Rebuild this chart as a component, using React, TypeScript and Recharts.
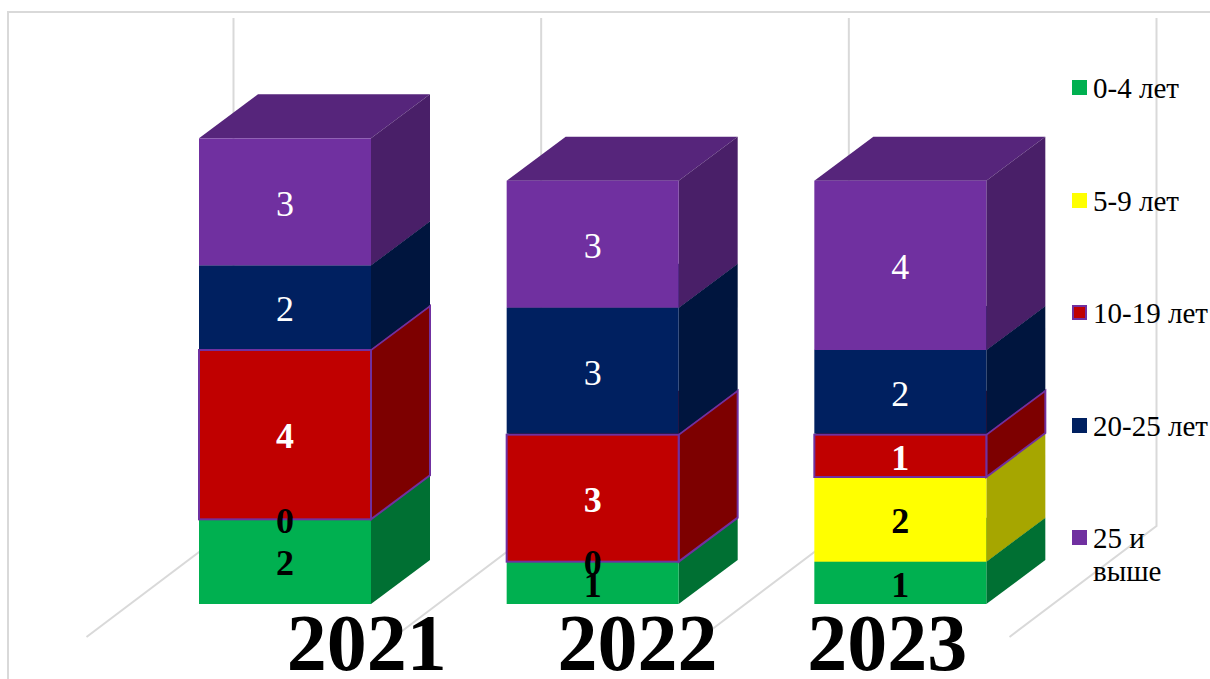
import React from "react";
import { BarChart, Bar, XAxis, YAxis, Legend, LabelList, usePlotArea } from "recharts";

const years = ["2021", "2022", "2023"];
const age0to4 = [2, 1, 1];
const age5to9 = [0, 0, 2];
const age10to19 = [4, 3, 1];
const age20to25 = [2, 3, 2];
const age25plus = [3, 3, 4];

const yMax = 12;
const font = '"Liberation Serif", "Times New Roman", serif';
const gridColor = "#d9d9d9";
const depthX = 59;
const depthY = 44;
const tickShift = [82, 45, -13];

const data = years.map((year, i) => ({
  year,
  a: age0to4[i],
  b: age5to9[i],
  c: age10to19[i],
  d: age20to25[i],
  e: age25plus[i],
}));

interface BoxProps {
  x?: number;
  y?: number;
  width?: number;
  height?: number;
}

const makeBox =
  (front: string, side: string, top: string, stroke?: string, bottomInset = 0) =>
  ({ x = 0, y = 0, width = 0, height = 0 }: BoxProps) => {
    if (height <= 0) return <g />;
    const right = x + width;
    const bottom = y + height - bottomInset;
    const edge = stroke ? { stroke, strokeWidth: 2 } : {};
    return (
      <g>
        <polygon
          points={`${x},${y} ${x + depthX},${y - depthY} ${right + depthX},${y - depthY} ${right},${y}`}
          fill={top}
        />
        <polygon
          points={`${right},${y} ${right + depthX},${y - depthY} ${right + depthX},${bottom - depthY} ${right},${bottom}`}
          fill={side}
          {...edge}
        />
        <rect x={x} y={y} width={width} height={bottom - y} fill={front} {...edge} />
      </g>
    );
  };

// back wall verticals and floor diagonals, behind the bars
const Walls = () => {
  const plot = usePlotArea();
  if (!plot) return null;
  const step = plot.width / years.length;
  const floor = plot.y + plot.height;
  return (
    <g>
      {[0, 1, 2, 3].map((i) => {
        const backX = plot.x + 102.5 + i * step;
        return (
          <g key={i} stroke={gridColor} strokeWidth={2} fill="none">
            <polyline
              points={`${backX},${plot.y - 78} ${backX},${floor - 78} ${plot.x - 44.5 + i * step},${floor + 33}`}
            />
          </g>
        );
      })}
    </g>
  );
};

const YearTick = ({ x = 0, y = 0, payload, index = 0 }: any) => (
  <text
    x={x + tickShift[index]}
    y={y + 58}
    textAnchor="middle"
    fontFamily={font}
    fontSize={80}
    fontWeight="bold"
    fill="#000"
  >
    {payload.value}
  </text>
);

const LegendBlock = ({ payload }: any) => (
  <div style={{ fontFamily: font, fontSize: 29, color: "#000" }}>
    {(payload || []).map((item: any) => (
      <div
        key={item.value}
        style={{ position: "absolute", left: 0, top: item.payload.legendTop, width: 140 }}
      >
        <span
          style={{
            position: "absolute",
            left: 0,
            top: 0,
            width: 15,
            height: 15,
            boxSizing: "border-box",
            background: item.color,
            border: item.value === "10-19 лет" ? "2px solid #7030a0" : "none",
          }}
        />
        <div
          style={{
            position: "absolute",
            left: 21,
            top: -8,
            width: 118,
            lineHeight: "33px",
            whiteSpace: "normal",
          }}
        >
          {item.value}
        </div>
      </div>
    ))}
  </div>
);

const labelBase = { position: "center" as const, fontFamily: font, fontSize: 36, dy: 1 };

export default function App() {
  return (
    <div style={{ position: "absolute", left: 0, top: 0, width: 1210, height: 679, background: "#fff" }}>
      <div
        style={{
          position: "absolute",
          left: 7,
          top: 11,
          right: 0,
          bottom: 0,
          borderTop: `2px solid ${gridColor}`,
          borderLeft: `2px solid ${gridColor}`,
        }}
      />
      <div style={{ position: "absolute", left: 0, top: 0 }}>
        <BarChart
          width={1210}
          height={679}
          data={data}
          barSize={172}
          margin={{ top: 96, right: 156, bottom: 0, left: 131 }}
        >
          <Walls />
          <XAxis
            dataKey="year"
            axisLine={false}
            tickLine={false}
            tick={<YearTick />}
            height={75}
            interval={0}
          />
          <YAxis hide domain={[0, yMax]} />
          <Legend
            content={<LegendBlock />}
            wrapperStyle={{ position: "absolute", left: 1072, top: 0, width: 138, height: 0 }}
          />
          <Bar
            dataKey="a"
            name="0-4 лет"
            stackId="s"
            fill="#00b050"
            legendTop={80}
            isAnimationActive={false}
            shape={makeBox("#00b050", "#007033", "#00873d")}
          >
            <LabelList dataKey="a" {...labelBase} fill="#000" fontWeight="bold" />
          </Bar>
          <Bar
            dataKey="b"
            name="5-9 лет"
            stackId="s"
            fill="#ffff00"
            legendTop={193}
            isAnimationActive={false}
            shape={makeBox("#ffff00", "#a6a600", "#c4c400")}
          >
            <LabelList dataKey="b" {...labelBase} fill="#000" fontWeight="bold" />
          </Bar>
          <Bar
            dataKey="c"
            name="10-19 лет"
            stackId="s"
            fill="#c00000"
            legendTop={305}
            isAnimationActive={false}
            shape={makeBox("#c00000", "#7d0000", "#930000", "#7030a0")}
          >
            <LabelList dataKey="c" {...labelBase} fill="#fff" fontWeight="bold" />
          </Bar>
          <Bar
            dataKey="d"
            name="20-25 лет"
            stackId="s"
            fill="#002060"
            legendTop={418}
            isAnimationActive={false}
            shape={makeBox("#002060", "#00153e", "#00184a", undefined, 1)}
          >
            <LabelList dataKey="d" {...labelBase} fill="#fff" />
          </Bar>
          <Bar
            dataKey="e"
            name="25 и выше"
            stackId="s"
            fill="#7030a0"
            legendTop={530}
            isAnimationActive={false}
            shape={makeBox("#7030a0", "#491f68", "#56257b")}
          >
            <LabelList dataKey="e" {...labelBase} fill="#fff" />
          </Bar>
        </BarChart>
      </div>
    </div>
  );
}
